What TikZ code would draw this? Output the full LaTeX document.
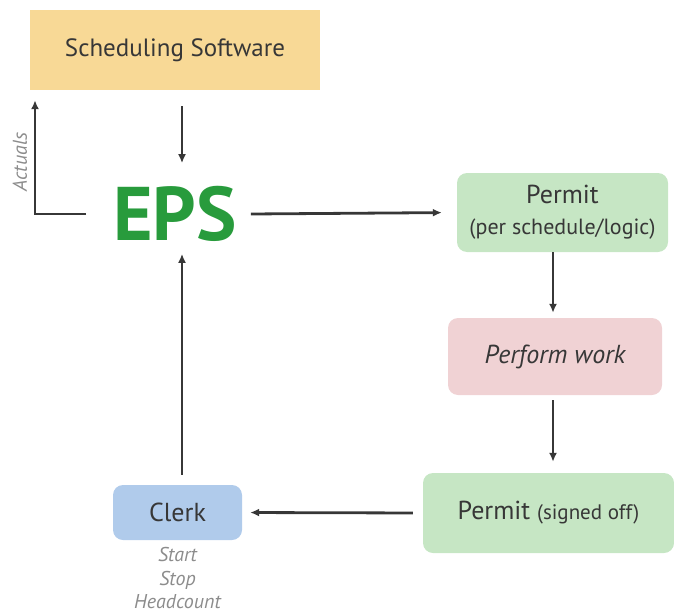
\documentclass[tikz,border=0pt]{standalone}
\usepackage{fontspec}
\setmainfont{PT Sans}
\usepackage{xcolor}
\usepackage{tikz}
\usetikzlibrary{arrows.meta,positioning}

\definecolor{schedfill}{RGB}{248,217,150}
\definecolor{permitfill}{RGB}{198,230,196}
\definecolor{workfill}{RGB}{240,210,212}
\definecolor{clerkfill}{RGB}{176,203,235}
\definecolor{epsgreen}{RGB}{40,155,60}
\definecolor{linegray}{RGB}{55,55,55}
\definecolor{notegray}{RGB}{140,140,140}

\begin{document}
\begin{tikzpicture}[x=1pt, y=-1pt,
	box/.style={rectangle, rounded corners=10pt, inner sep=0pt, text=linegray, align=center},
	arr/.style={draw=linegray, line width=2.8pt, -{Latex[length=9pt,width=8pt]}},
	note/.style={text=notegray, inner sep=0pt, font=\fontsize{20}{23.5}\selectfont\itshape, align=center}]
	\useasboundingbox (0,0) rectangle (674,615);
	
	\node[box, rounded corners=0pt, fill=schedfill, minimum width=290pt, minimum height=80pt,
		font=\fontsize{25}{30}\selectfont] (sched) at (175,50) {Scheduling Software};
	\node[text=epsgreen, font=\fontsize{76}{76}\selectfont\bfseries, inner xsep=14pt, inner ysep=0pt] (eps) at (175,214) {EPS};
	\node[box, fill=permitfill, minimum width=211pt, minimum height=79pt,
		font=\fontsize{22}{31}\selectfont] (permitA) at (562.5,212.5)
		{{\fontsize{26}{31}\selectfont Permit}\\(per schedule/logic)};
	\node[box, fill=workfill, minimum width=214pt, minimum height=77pt,
		font=\fontsize{26}{30}\selectfont\itshape] (work) at (555,356.5) {Perform work};
	\node[box, fill=permitfill, minimum width=251pt, minimum height=80pt] (permitB) at (548.5,513)
		{\fontsize{26}{30}\selectfont Permit {\fontsize{21}{26}\selectfont(signed off)}};
	\node[box, fill=clerkfill, minimum width=129pt, minimum height=55pt,
		font=\fontsize{26}{30}\selectfont] (clerk) at (177.5,512.5) {Clerk};
	\node[note, below=7pt of clerk] (times) {Start\\Stop\\Headcount};
	\node[note, rotate=90, font=\fontsize{20}{24}\selectfont\itshape] (actuals) at (20,162) {Actuals};
	\coordinate (corner) at (35,214);
	
	\draw[arr, shorten <=16pt, shorten >=23pt] ([xshift=7pt]sched.south) -- ([xshift=7pt]eps.north);
	\draw[arr, shorten >=15pt] (eps.east) -- (permitA.west);
	\draw[arr, shorten >=5pt] ([xshift=-9.5pt]permitA.south) -- ([xshift=-2pt]work.north);
	\draw[arr, shorten <=5pt, shorten >=11pt] ([xshift=-2pt]work.south) -- ([xshift=4.5pt]permitB.north);
	\draw[arr, shorten <=10pt, shorten >=8pt] (permitB.west) -- (clerk.east);
	\draw[arr, shorten <=10pt, shorten >=12pt] ([xshift=4.5pt]clerk.north) -- ([xshift=7pt]eps.south);
	\draw[arr, shorten >=10pt] ([xshift=-13pt]eps.west) -- (corner) -- (corner |- sched.south);
\end{tikzpicture}
\end{document}
